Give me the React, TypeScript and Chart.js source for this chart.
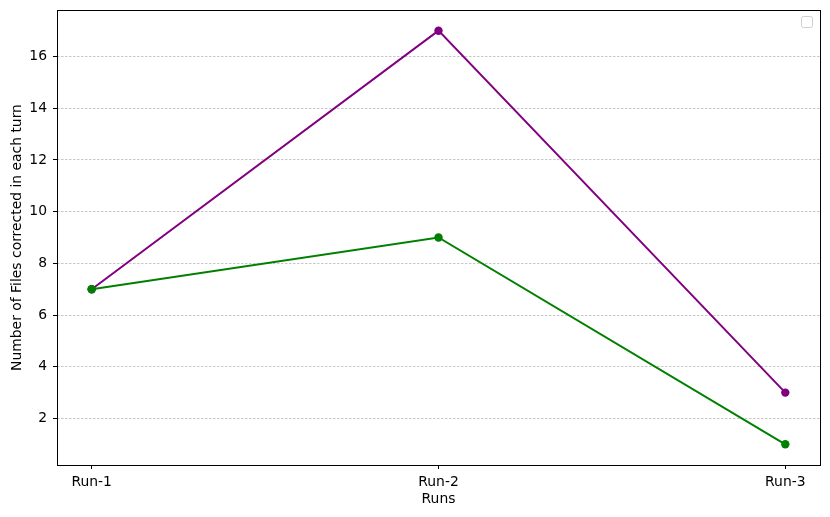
import React, { useEffect, useRef } from "react";
import { Chart, registerables } from "chart.js";

Chart.register(...registerables);

const categories = ["Run-1", "Run-2", "Run-3"];
const seriesPurple = [7, 17, 3];
const seriesGreen = [7, 9, 1];
const yTicks = [2, 4, 6, 8, 10, 12, 14, 16];

const FONT = "'DejaVu Sans', sans-serif";
const FS = 13.9;

const framePlugin = {
  id: "frame",
  afterDraw(chart: any) {
    const { ctx, chartArea: a } = chart;
    ctx.save();
    ctx.strokeStyle = "#000";
    ctx.lineWidth = 1;
    ctx.strokeRect(Math.round(a.left) + 0.5, Math.round(a.top) + 0.5, Math.round(a.right - a.left), Math.round(a.bottom - a.top));
    // empty legend box
    ctx.strokeStyle = "#d0d0d0";
    ctx.fillStyle = "rgba(255,255,255,0.8)";
    const x = a.right - 18.5, y = a.top + 6.5, w = 11, h = 11, r = 2;
    ctx.beginPath();
    ctx.moveTo(x + r, y);
    ctx.lineTo(x + w - r, y);
    ctx.quadraticCurveTo(x + w, y, x + w, y + r);
    ctx.lineTo(x + w, y + h - r);
    ctx.quadraticCurveTo(x + w, y + h, x + w - r, y + h);
    ctx.lineTo(x + r, y + h);
    ctx.quadraticCurveTo(x, y + h, x, y + h - r);
    ctx.lineTo(x, y + r);
    ctx.quadraticCurveTo(x, y, x + r, y);
    ctx.closePath();
    ctx.fill();
    ctx.stroke();
    ctx.restore();
  },
};

export default function App() {
  const ref = useRef<HTMLCanvasElement>(null);
  useEffect(() => {
    document.body.style.margin = "0";
    const green = seriesGreen.map((v, i) => ({ x: i, y: v }));
    const purple = seriesPurple.map((v, i) => ({ x: i, y: v }));
    const chart = new Chart(ref.current!, {
      type: "line",
      data: {
        datasets: [
          {
            data: green,
            borderColor: "#008000",
            backgroundColor: "#008000",
            pointBackgroundColor: "#008000",
            pointBorderColor: "#008000",
            borderWidth: 2,
            pointRadius: 4.2,
            pointBorderWidth: 0,
            tension: 0,
          },
          {
            data: purple,
            borderColor: "#800080",
            backgroundColor: "#800080",
            pointBackgroundColor: "#800080",
            pointBorderColor: "#800080",
            borderWidth: 2,
            pointRadius: 4.2,
            pointBorderWidth: 0,
            tension: 0,
          },
        ],
      },
      options: {
        responsive: false,
        animation: false,
        layout: { padding: { top: 10, right: 10, left: 0, bottom: 0 } },
        plugins: { legend: { display: false }, tooltip: { enabled: false } },
        scales: {
          x: {
            type: "linear",
            min: -0.1,
            max: 2.1,
            afterBuildTicks: (s: any) => {
              s.ticks = categories.map((_, i) => ({ value: i }));
            },
            afterFit: (s: any) => {
              s.height = 52;
              s.paddingLeft = 0;
              s.paddingRight = 0;
            },
            ticks: {
              callback: (v: any) => categories[v] ?? "",
              color: "#000",
              font: { family: FONT, size: FS },
              padding: 5,
              maxRotation: 0,
            },
            grid: { display: true, drawOnChartArea: false, drawTicks: true, tickLength: 4, tickColor: "#000" },
            border: { display: false },
            title: {
              display: true,
              text: "Runs",
              color: "#000",
              font: { family: FONT, size: FS },
              padding: { top: 2, bottom: 9 },
            },
          },
          y: {
            type: "linear",
            min: 0.2,
            max: 17.8,
            afterBuildTicks: (s: any) => {
              s.ticks = yTicks.map((v) => ({ value: v }));
            },
            afterFit: (s: any) => {
              s.width = 57;
              s.paddingTop = 0;
              s.paddingBottom = 0;
            },
            ticks: {
              color: "#000",
              font: { family: FONT, size: FS },
              padding: 6,
            },
            grid: {
              display: true,
              color: "#b0b0b0",
              lineWidth: 0.7,
              drawTicks: true,
              tickLength: 4,
              tickColor: "#000",
              tickBorderDash: [],
              tickWidth: 1,
            },
            border: { display: false, dash: [2.5, 1.5] },
            title: {
              display: true,
              text: "Number of Files corrected in each turn",
              color: "#000",
              font: { family: FONT, size: FS },
              padding: { top: 9, bottom: 0 },
            },
          },
        },
      },
      plugins: [framePlugin],
    });
    return () => chart.destroy();
  }, []);
  return <canvas ref={ref} width={830} height={517} style={{ display: "block" }} />;
}
